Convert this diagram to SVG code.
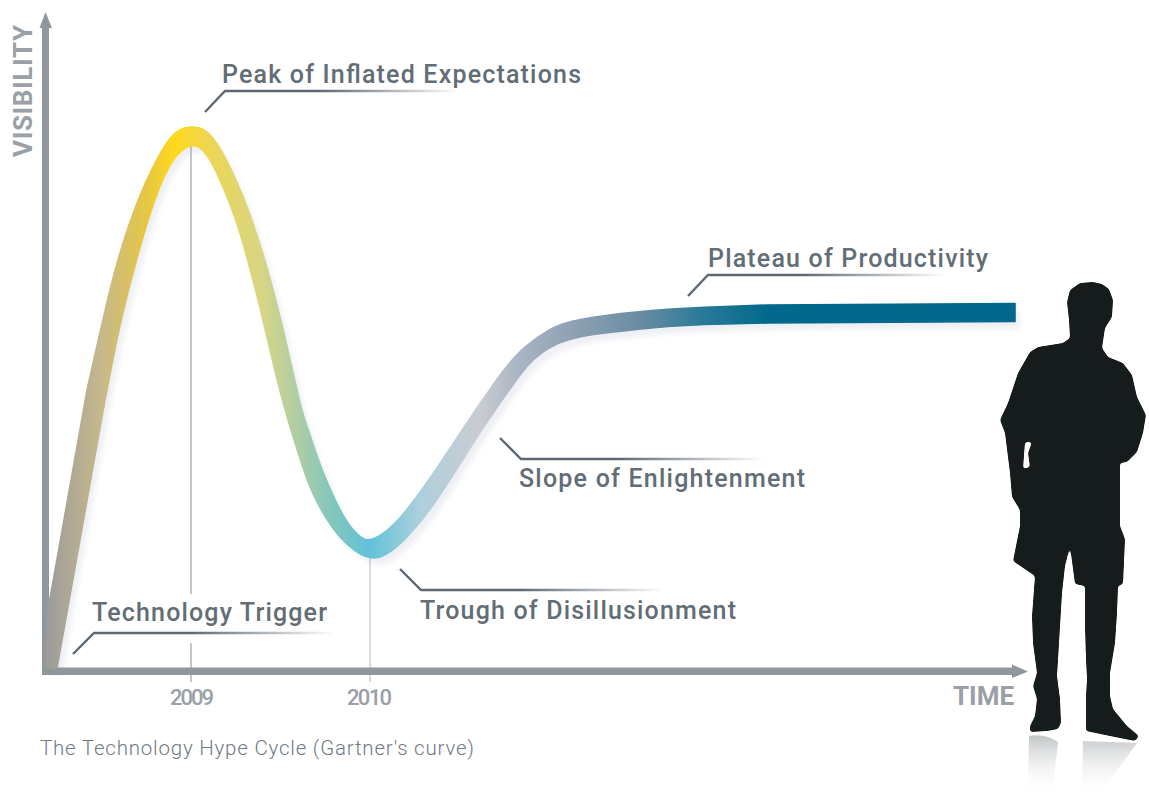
<svg xmlns="http://www.w3.org/2000/svg" width="1149" height="796" viewBox="0 0 1149 796">
<style>
.lab{font-family:Roboto,"Liberation Sans",sans-serif;font-size:25px;font-weight:500;fill:#626d75}
.ax{font-family:Roboto,"Liberation Sans",sans-serif;font-size:26px;font-weight:700;fill:#9aa0a6}
.yr{font-family:Roboto,"Liberation Sans",sans-serif;font-size:22px;font-weight:500;fill:#9aa0a6}
.cap{font-family:Roboto,"Liberation Sans",sans-serif;font-size:20.500px;font-weight:300;fill:#6f7b84}
.tick{stroke:#9aa1a6;stroke-width:1.2;fill:none}
.lead{fill:none;stroke-width:2.400}
</style>
<defs>
<linearGradient id="curveG" gradientUnits="userSpaceOnUse" x1="45" y1="0" x2="1015" y2="0">
<stop offset="0" stop-color="#9b9b9b"/>
<stop offset="0.057" stop-color="#c6b88c"/>
<stop offset="0.108" stop-color="#e9c93f"/>
<stop offset="0.134" stop-color="#ffd91c"/>
<stop offset="0.17" stop-color="#ecd655"/>
<stop offset="0.222" stop-color="#d8d683"/>
<stop offset="0.253" stop-color="#b7cf9f"/>
<stop offset="0.294" stop-color="#85c7bb"/>
<stop offset="0.335" stop-color="#62c2d8"/>
<stop offset="0.387" stop-color="#add0dc"/>
<stop offset="0.448" stop-color="#c9ccd2"/>
<stop offset="0.49" stop-color="#a8b4c3"/>
<stop offset="0.541" stop-color="#8fa2b3"/>
<stop offset="0.613" stop-color="#6a8da3"/>
<stop offset="0.675" stop-color="#2c7a98"/>
<stop offset="0.744" stop-color="#02698c"/>
<stop offset="1" stop-color="#02698c"/>
</linearGradient>
<linearGradient id="l1" gradientUnits="userSpaceOnUse" x1="205" y1="0" x2="460" y2="0"><stop offset="0" stop-color="#5e6973"/><stop offset="0.45" stop-color="#5e6973"/><stop offset="1" stop-color="#5e6973" stop-opacity="0"/></linearGradient>
<linearGradient id="l2" gradientUnits="userSpaceOnUse" x1="73" y1="0" x2="335" y2="0"><stop offset="0" stop-color="#5e6973"/><stop offset="0.45" stop-color="#5e6973"/><stop offset="1" stop-color="#5e6973" stop-opacity="0"/></linearGradient>
<linearGradient id="l3" gradientUnits="userSpaceOnUse" x1="400" y1="0" x2="665" y2="0"><stop offset="0" stop-color="#5e6973"/><stop offset="0.45" stop-color="#5e6973"/><stop offset="1" stop-color="#5e6973" stop-opacity="0"/></linearGradient>
<linearGradient id="l4" gradientUnits="userSpaceOnUse" x1="500" y1="0" x2="765" y2="0"><stop offset="0" stop-color="#5e6973"/><stop offset="0.45" stop-color="#5e6973"/><stop offset="1" stop-color="#5e6973" stop-opacity="0"/></linearGradient>
<linearGradient id="l5" gradientUnits="userSpaceOnUse" x1="688" y1="0" x2="945" y2="0"><stop offset="0" stop-color="#5e6973"/><stop offset="0.45" stop-color="#5e6973"/><stop offset="1" stop-color="#5e6973" stop-opacity="0"/></linearGradient>
<linearGradient id="refl" gradientUnits="userSpaceOnUse" x1="0" y1="735" x2="0" y2="796"><stop offset="0" stop-color="#c2c5c7"/><stop offset="1" stop-color="#ffffff" stop-opacity="0"/></linearGradient>
<filter id="organic" x="-5%" y="-5%" width="110%" height="110%">
<feGaussianBlur stdDeviation="1.4"/>
<feComponentTransfer><feFuncA type="linear" slope="5" intercept="-2"/></feComponentTransfer>
<feGaussianBlur stdDeviation="0.5"/>
</filter>
<filter id="soft" x="-5%" y="-5%" width="110%" height="110%"><feGaussianBlur stdDeviation="2.500"/></filter>
<path id="cv" d="M46 668L48 610L87 390Q102 323 110 290Q118 257 129 225Q140 193 151.500 170Q163 147 170 138.500Q177 130 184.500 128Q192 126 199.500 128Q207 130 215 141Q223 152 233 173.500Q243 195 251.500 219Q260 243 269 275Q278 307 287.500 348.500Q297 390 300 403Q304 419 310 435Q320 467 331.500 492Q343 517 350.500 526.500Q358 536 364 539Q370 542 381.500 534.500Q393 527 406.500 510Q420 493 433.500 473Q447 453 463.500 428Q480 403 496.500 380Q513 357 525 347Q537 337 550 329.500Q563 322 591.500 317.500Q620 313 651.500 310.500Q683 308 725 306.500L767 305L1015 303.500V321.500L767 323L725 324Q683 325 651.500 328Q620 331 593.500 334.500Q567 338 550 347.500Q533 357 520 375Q507 393 493.500 412.500Q480 432 465 456Q450 480 436.500 500Q423 520 408 536Q393 552 381.500 556.500Q370 561 355 550.500Q340 540 326.500 518.500Q313 497 305 473.500Q297 450 288.500 421.500Q280 393 270 350Q260 307 251 272.500Q242 238 234.500 216.500Q227 195 217 173.500Q207 152 199.500 147.500Q192 143 182.500 150Q173 157 164 177Q155 197 146 227Q137 257 128.500 290Q120 323 112.500 361.500L105 400L57 668Z"/>
</defs>
<rect width="1149" height="796" fill="#fff"/>
<use id="curve-shadow" href="#cv" fill="#eef0f4" transform="translate(5 7)" filter="url(#soft)"/>
<g id="connectors">
<path class="tick" d="M191 143V594M191 643V682"/>
<path class="tick" d="M370 558V682" stroke-opacity="0.65"/>
<path class="lead" stroke="url(#l1)" d="M205 112L225 91H460"/>
<path class="lead" stroke="url(#l2)" d="M73 654L94 633H335"/>
<path class="lead" stroke="url(#l3)" d="M400 569L421 590H665"/>
<path class="lead" stroke="url(#l4)" d="M500 438L521 459H765"/>
<path class="lead" stroke="url(#l5)" d="M688 296L708 275H945"/>
</g>
<g id="axes" fill="#90979d">
<path d="M42 675V28H39.500L45.500 12L52 28H49V667.500H1012V664.500L1028 671.500L1012 678V675Z"/>
</g>
<g id="curve"><use href="#cv" fill="url(#curveG)" stroke="url(#curveG)" stroke-width="1.600" stroke-linejoin="round"/></g>
<g id="labels">
<text class="lab" x="222" y="83" textLength="359">Peak of Inflated Expectations</text>
<text class="lab" x="92" y="621" textLength="235">Technology Trigger</text>
<text class="lab" x="420" y="619" textLength="316">Trough of Disillusionment</text>
<text class="lab" x="519" y="487" textLength="286">Slope of Enlightenment</text>
<text class="lab" x="708" y="267" textLength="280">Plateau of Productivity</text>
<text class="ax" transform="translate(32 157) rotate(-90)" textLength="132">VISIBILITY</text>
<text class="ax" x="953" y="705" textLength="61">TIME</text>
<text class="yr" x="170" y="705" textLength="44">2009</text>
<text class="yr" x="347" y="705" textLength="45">2010</text>
<text class="cap" x="40" y="755" textLength="434">The Technology Hype Cycle (Gartner's curve)</text>
</g>
<g id="person">
<path fill="url(#refl)" d="M1029 736Q1045 733 1058 742L1052 796H1028ZM1083 741L1137 743L1098 796H1082Z"/>
<path filter="url(#organic)" fill="#121c1f" fill-rule="evenodd" d="M1070 338L1069 320L1067 302L1070 290L1080 283L1093 282L1102 284L1109 289L1113 300L1112 317L1105 328L1102 348L1108 357L1123 363L1132 375L1137 397L1146 415L1143 433L1137 452L1127 462L1120 463L1120 526L1125 539L1123 584L1118 586L1117 613L1115 643L1110 673L1110 696L1113 709L1127 726L1139 736L1135 741L1110 736L1086 731L1086 696L1087 679L1086 659L1085 626L1085 586L1075 584L1070 546L1065 566L1062 593L1059 643L1057 676L1060 699L1061 723L1058 729L1047 731L1030 732L1030 726L1035 716L1037 699L1033 686L1037 673L1033 643L1032 616L1035 576L1013 561L1018 536L1020 526L1020 510L1012 497L1010 473L1005 433L1000 420L1008 403L1018 373L1030 352L1038 347L1063 343ZM1025 442L1032 442L1028 453L1030 467L1023 469Z"/>
</g>
</svg>
